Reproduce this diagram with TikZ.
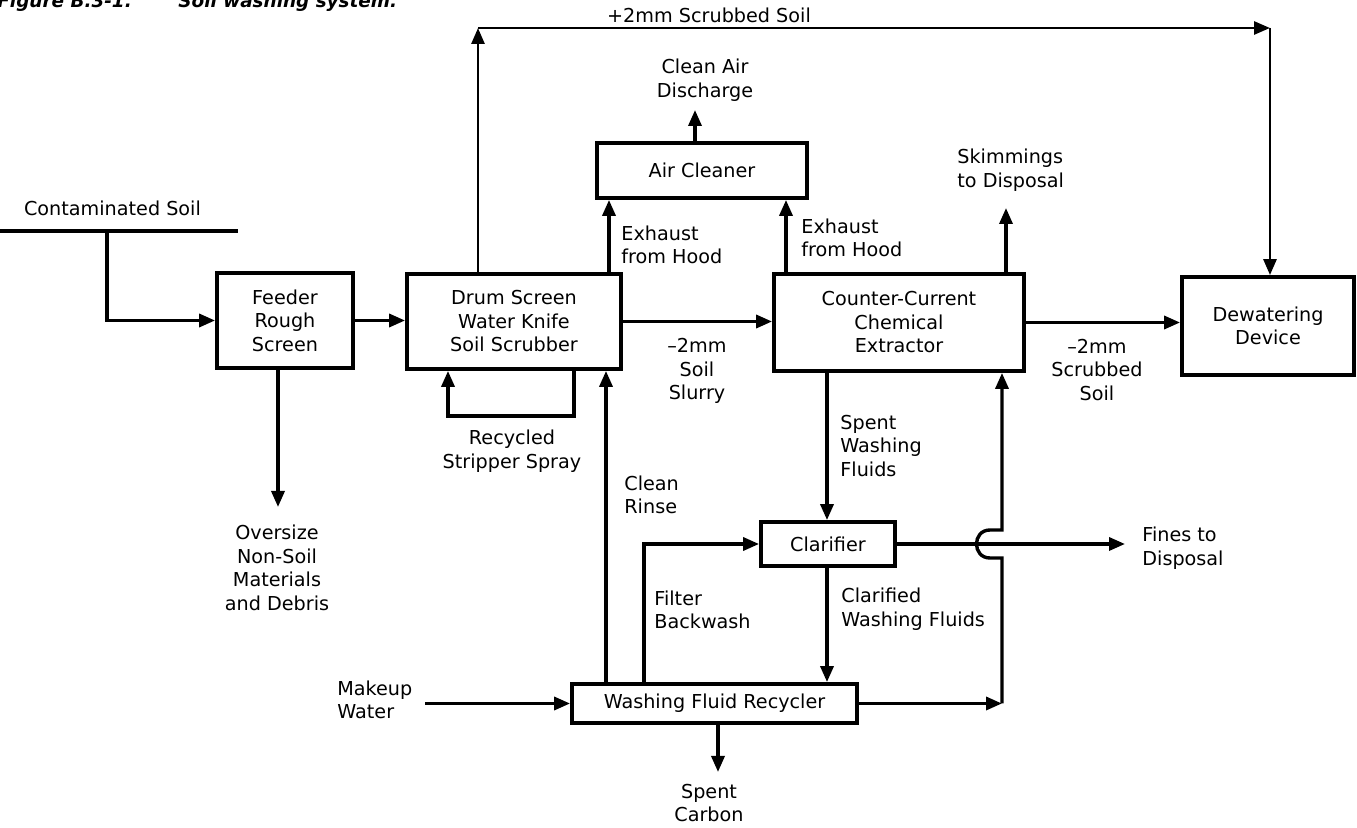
\documentclass[tikz,border=0pt]{standalone}
\usepackage{fontspec}
\setmainfont{DejaVu Sans}
\usetikzlibrary{arrows.meta}
\begin{document}
\begin{tikzpicture}[x=0.5pt,y=-0.5pt,
  every node/.style={font=\fontsize{9.6}{11.75}\selectfont, inner sep=0pt},
  box/.style={draw, line width=1.9pt, align=center},
  flow/.style={line width=1.7pt, -{Triangle[length=8pt,width=6.5pt]}},
  thinflow/.style={line width=1.4pt, -{Triangle[length=8pt,width=6.5pt]}},
  plain/.style={line width=1.7pt},
  lblc/.style={align=center},
  lbll/.style={align=left, anchor=west},
  capt/.style={anchor=base west, font=\fontsize{9.2}{11}\selectfont\bfseries\itshape}]
\useasboundingbox (0,0) rectangle (1357,828);

% boxes
\node[box, minimum width=68pt, minimum height=47.5pt] (feeder) at (285,320.5) {Feeder\\Rough\\Screen};
\node[box, minimum width=107pt, minimum height=47.5pt] (drum) at (514,321.5) {Drum Screen\\Water Knife\\Soil Scrubber};
\node[box, minimum width=125pt, minimum height=48.5pt] (counter) at (899,322.5) {Counter-Current\\Chemical\\Extractor};
\node[box, minimum width=86pt, minimum height=49pt] (dewater) at (1268,326) {Dewatering\\Device};
\node[box, minimum width=105pt, minimum height=27.5pt] (air) at (702,170.5) {Air Cleaner};
\node[box, minimum width=67pt, minimum height=22pt] (clar) at (828,544) {Clarifier};
\node[box, minimum width=142.5pt, minimum height=19.5pt] (recyc) at (714.5,703.5) {Washing Fluid Recycler};

% coordinates
\coordinate (cs0) at (0,231);
\coordinate (cs1) at (238,231);
\coordinate (csj) at (107,231);
\coordinate (tl) at (478,28);
\coordinate (tr) at (1270,28);
\coordinate (exl) at (609,250);
\coordinate (exr) at (786,250);
\coordinate (ca) at (695,110);
\coordinate (sk) at (1006,208);
\coordinate (sp) at (827,450);
\coordinate (lpR) at (574,416);
\coordinate (lpL) at (448,416);
\coordinate (cr) at (606,500);
\coordinate (fb) at (644,600);
\coordinate (fn) at (1125,544);
\coordinate (rr) at (1002,703.5);
\coordinate (h1) at (1002,558);
\coordinate (h2) at (990,558);
\coordinate (h3) at (990,530);
\coordinate (h4) at (1002,530);
\coordinate (mk) at (425,703.5);
\coordinate (sc) at (718,772);
\coordinate (ov) at (278,507);

% connectors
\draw[plain] (cs0) -- (cs1);
\draw[flow] (csj) |- (feeder.west);
\draw[flow] (feeder.east) -- (feeder.east -| drum.west);
\draw[flow] (drum.east) -- (drum.east -| counter.west);
\draw[flow] (counter.east) -- (counter.east -| dewater.west);
\draw[thinflow] (tl |- drum.north) -- (tl);
\draw[thinflow] (tl) -- (tr);
\draw[thinflow] (tr) -- (tr |- dewater.north);
\draw[flow] (exl |- drum.north) -- (exl |- air.south);
\draw[flow] (exr |- counter.north) -- (exr |- air.south);
\draw[flow] (ca |- air.north) -- (ca);
\draw[flow] (sk |- counter.north) -- (sk);
\draw[flow] (sp |- counter.south) -- (sp |- clar.north);
\draw[flow] (lpR |- drum.south) -- (lpR) -- (lpL) -- (lpL |- drum.south);
\draw[flow] (cr |- recyc.north) -- (cr |- drum.south);
\draw[flow] (fb |- recyc.north) |- (clar.west);
\draw[flow] (sp |- clar.south) -- (sp |- recyc.north);
\draw[flow] (clar.east) -- (fn);
\draw[flow] (recyc.east) -- (rr);
\draw[flow] (rr) -- (h1) -- (h2) .. controls (972,558) and (972,530) .. (h3) -- (h4) -- (rr |- counter.south);
\draw[flow] (mk) -- (recyc.west);
\draw[flow] (sc |- recyc.south) -- (sc);
\draw[flow] (ov |- feeder.south) -- (ov);

% labels
\node (tCont) at (112.5,208) {Contaminated Soil};
\node (tTop) at (709,15) {+2mm Scrubbed Soil};
\node[lblc] (tCA) at (705,80) {Clean Air\\Discharge};
\node[lbll] (tEx1) at (621,245) {Exhaust\\from Hood};
\node[lbll] (tEx2) at (801,238) {Exhaust\\from Hood};
\node[lbll] (tSk) at (957,170) {Skimmings\\to Disposal};
\node[lblc] (tSS) at (697,371) {–2mm\\Soil\\Slurry};
\node[lblc] (tSc) at (1097,370) {–2mm\\Scrubbed\\Soil};
\node[lbll] (tSp) at (840,446) {Spent\\Washing\\Fluids};
\node[lblc] (tRe) at (512,451) {Recycled\\Stripper Spray};
\node[lbll] (tCR) at (624,495) {Clean\\Rinse};
\node[lblc] (tOv) at (277,568) {Oversize\\Non-Soil\\Materials\\and Debris};
\node[lbll] (tFi) at (1142,548) {Fines to\\Disposal};
\node[lbll] (tFB) at (654,610) {Filter\\Backwash};
\node[lbll] (tCl) at (841,609) {Clarified\\Washing Fluids};
\node[lbll] (tMk) at (337,700) {Makeup\\Water};
\node[lblc] (tSC) at (709,803) {Spent\\Carbon};
\node[capt] (cap1) at (-3,8) {Figure B.3-1.};
\node[capt] (cap2) at (178,8) {Soil washing system.};
\end{tikzpicture}
\end{document}
